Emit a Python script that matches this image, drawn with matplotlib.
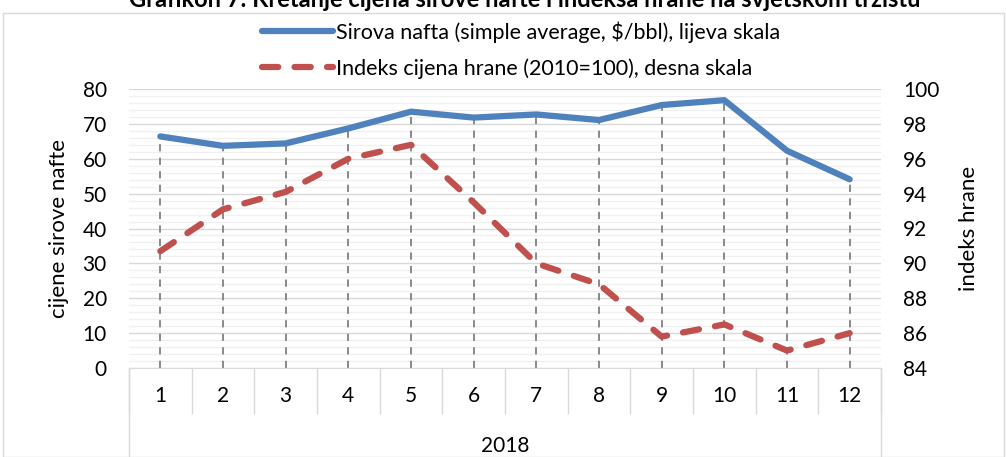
import numpy as np
import matplotlib
matplotlib.use('Agg')
import matplotlib.pyplot as plt
from matplotlib.patches import Rectangle
from matplotlib.lines import Line2D

plt.rcParams['font.family'] = ['Lato', 'DejaVu Sans']

# Data
months = ['1', '2', '3', '4', '5', '6', '7', '8', '9', '10', '11', '12']
year = '2018'
oil = [66.4, 63.7, 64.4, 68.7, 73.5, 71.8, 72.7, 71.1, 75.4, 76.8, 62.3, 54.1]
food = [90.7, 93.1, 94.1, 96.0, 96.8, 93.5, 90.0, 88.8, 85.8, 86.5, 85.0, 86.0]

title = 'Grafikon 7: Kretanje cijena sirove nafte i indeksa hrane na svjetskom tržištu'
oil_label = 'Sirova nafta (simple average, $/bbl), lijeva skala'
food_label = 'Indeks cijena hrane (2010=100), desna skala'

blue = '#4F81BD'
red = '#C0504D'
grid_major = '#D9D9D9'
grid_minor = '#F0F0F0'

W, H = 1006, 457
fig = plt.figure(figsize=(W / 100, H / 100), dpi=100)

# outer chart border
fig.patches.append(Rectangle((3 / W, 0), 1001 / W, 1 - 13 / H, transform=fig.transFigure,
                             fill=False, edgecolor=grid_major, linewidth=1))

ax = fig.add_axes([129 / W, 1 - 368 / H, 752 / W, 279 / H])
x = np.arange(1, len(months) + 1)

ax.set_xlim(0.5, len(months) + 0.5)
ax.set_ylim(0, 80)
ax.set_yticks(np.arange(0, 81, 10))
ax.set_yticks(np.arange(0, 81, 2), minor=True)
ax.grid(axis='y', which='major', color=grid_major, linewidth=1)
ax.grid(axis='y', which='minor', color=grid_minor, linewidth=1)
ax.set_axisbelow(True)
for s in ['top', 'left', 'right']:
    ax.spines[s].set_visible(False)
ax.spines['bottom'].set_color(grid_major)
ax.tick_params(axis='y', which='both', length=0, labelsize=15, pad=16)

# category axis: labels + separators
ax.set_xticks(x)
ax.set_xticklabels(months)
ax.set_xticks(np.arange(0.5, len(months) + 1, 1), minor=True)
ax.tick_params(axis='x', which='major', length=0, labelsize=15, pad=13)
ax.tick_params(axis='x', which='minor', length=33, color=grid_major, width=1)
xt = ax.get_xaxis_transform()
ax.vlines([0.5, len(months) + 0.5], -0.33, 0, transform=xt, color=grid_major,
          linewidth=1, clip_on=False)
ax.text((1 + len(months)) / 2, -0.28, year, transform=xt, ha='center', va='center',
        fontsize=15)

ax.set_ylabel('cijene sirove nafte', fontsize=16, labelpad=10)

ax2 = ax.twinx()
ax2.set_ylim(84, 100)
ax2.set_yticks(np.arange(84, 101, 2))
for s in ax2.spines.values():
    s.set_visible(False)
ax2.tick_params(axis='y', length=0, labelsize=15, pad=16)
ax2.set_ylabel('indeks hrane', fontsize=16, labelpad=14)

# drop lines from the higher point down to the axis
food_left = [(v - 84) / 16 * 80 for v in food]
tops = np.maximum(oil, food_left)
ax.vlines(x, 0, tops, colors='#808080', linestyles=(0, (4, 3.5)), linewidth=1.3, zorder=2)

ax.plot(x, oil, color=blue, linewidth=4.5, solid_capstyle='round', zorder=4)
ax2.plot(x, food, color=red, linewidth=4.5, dash_capstyle='round',
         linestyle=(0, (2.6, 2.6)), zorder=3)

# legend
handles = [Line2D([], [], color=blue, linewidth=4.5, solid_capstyle='round'),
           Line2D([], [], color=red, linewidth=4.5, dash_capstyle='round',
                  linestyle=(0, (2.6, 2.6)))]
fig.legend(handles, [oil_label, food_label], loc='upper center',
           bbox_to_anchor=(0.518, 1 - 2 / H), frameon=False, fontsize=15.5,
           handlelength=3.3, handletextpad=0.1, labelspacing=0.72)

fig.text(0.522, 1 - 7 / H, title, ha='center', va='baseline', fontsize=17,
         fontweight='bold')

fig.savefig('out.png', dpi=100)
